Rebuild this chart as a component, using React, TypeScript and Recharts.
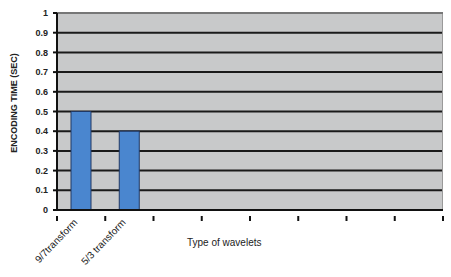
import { BarChart, Bar, XAxis, YAxis, CartesianGrid, ReferenceLine } from "recharts";

const categories = ["9/7transform", "5/3 transform", "", "", "", "", "", ""];
const encodingTime = [0.5, 0.4, null, null, null, null, null, null];
const yTicks = [0, 0.1, 0.2, 0.3, 0.4, 0.5, 0.6, 0.7, 0.8, 0.9, 1];

const data = categories.map((name, i) => ({ name, time: encodingTime[i] }));

const W = 451;
const H = 277;
const margin = { top: 13, right: 8, left: 0, bottom: 0 };
const yAxisWidth = 57;
const plotWidth = W - margin.left - margin.right - yAxisWidth;
const band = plotWidth / categories.length;
const font = "'Liberation Sans', Arial, sans-serif";

function XTick(props: any) {
  const { x, y, payload, index } = props;
  const top = y - 2;
  const tx = x - 3;
  const ty = y + 5;
  return (
    <g>
      <line x1={x - band / 2} y1={top} x2={x - band / 2} y2={top + 5} stroke="#111" strokeWidth={2} />
      {index === categories.length - 1 && (
        <line x1={x + band / 2} y1={top} x2={x + band / 2} y2={top + 5} stroke="#111" strokeWidth={2} />
      )}
      {payload.value && (
        <text
          x={tx}
          y={ty}
          transform={`rotate(-46, ${tx}, ${ty})`}
          textAnchor="end"
          fontSize={10}
          fill="#222"
          fontFamily={font}
        >
          {payload.value}
        </text>
      )}
    </g>
  );
}

export default function App() {
  return (
    <div style={{ position: "absolute", left: 0, top: 0, background: "#fff" }}>
      <BarChart width={W} height={H} data={data} margin={margin} barCategoryGap={0}>
        <CartesianGrid
          vertical={false}
          horizontalValues={[0.1, 0.2, 0.3, 0.4, 0.5, 0.6, 0.7, 0.8, 0.9]}
          stroke="#1a1a1a"
          strokeWidth={2}
          fill="#c8c9ca"
          strokeOpacity={1}
        />
        <CartesianGrid
          horizontal={false}
          verticalPoints={[W - margin.right - 0.5]}
          stroke="#9a9a9a"
          strokeWidth={1}
        />
        <ReferenceLine y={1} stroke="#777" strokeWidth={2} />
        <XAxis
          dataKey="name"
          height={67}
          interval={0}
          tickLine={false}
          axisLine={{ stroke: "#111", strokeWidth: 2 }}
          tick={<XTick />}
          label={() => (
            <text x={187} y={246} fontSize={10} fill="#222" fontFamily={font}>
              Type of wavelets
            </text>
          )}
        />
        <YAxis
          width={yAxisWidth}
          domain={[0, 1]}
          ticks={yTicks}
          interval={0}
          tickSize={4}
          tickMargin={5}
          tickLine={{ stroke: "#111", strokeWidth: 2 }}
          axisLine={{ stroke: "#111", strokeWidth: 2 }}
          tick={{ fontSize: 9, fontWeight: "bold", fill: "#222", fontFamily: font }}
          label={() => (
            <text
              x={17}
              y={103}
              transform="rotate(-90, 17, 103)"
              textAnchor="middle"
              fontSize={9}
              fontWeight="bold"
              fill="#222"
              fontFamily={font}
            >
              ENCODING TIME (SEC)
            </text>
          )}
        />
        <Bar dataKey="time" barSize={20} fill="#4a86cf" stroke="#203864" strokeWidth={1} isAnimationActive={false} />
      </BarChart>
    </div>
  );
}
